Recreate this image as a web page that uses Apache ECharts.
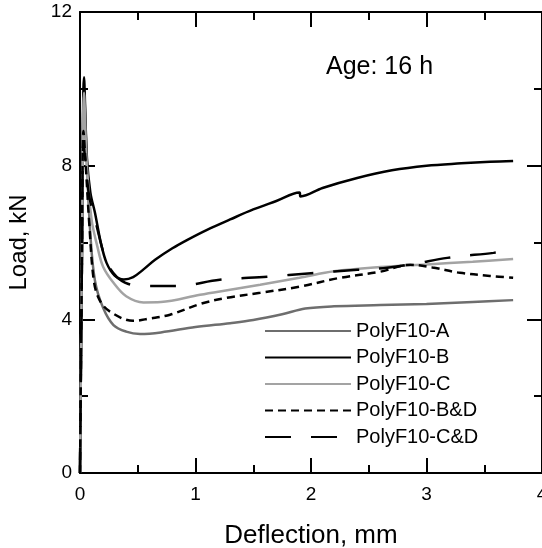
<!DOCTYPE html>
<html>
<head>
<meta charset="utf-8">
<script src="https://cdn.jsdelivr.net/npm/echarts@6/dist/echarts.min.js"></script>
<style>
  html, body { margin: 0; padding: 0; background: #fff; }
  #chart { width: 542px; height: 548px; }
</style>
</head>
<body>
<div id="chart"></div>
<script>
// deflection (mm), load (kN) pairs
const polyA = [[0,0],[0.015,5],[0.035,10.0],[0.06,8.0],[0.09,6.2],[0.13,5.0],[0.2,4.3],[0.29,3.85],[0.4,3.68],[0.52,3.62],[0.7,3.66],[1.0,3.8],[1.3,3.9],[1.5,3.98],[1.75,4.13],[1.95,4.28],[2.2,4.34],[2.6,4.37],[3.0,4.4],[3.4,4.45],[3.75,4.5]];
const polyB = [[0,0],[0.015,5],[0.035,10.3],[0.06,8.2],[0.09,7.3],[0.13,6.77],[0.18,6.0],[0.23,5.47],[0.3,5.14],[0.38,5.04],[0.46,5.1],[0.55,5.3],[0.65,5.55],[0.8,5.85],[0.93,6.07],[1.1,6.33],[1.3,6.6],[1.5,6.86],[1.7,7.08],[1.9,7.3],[1.91,7.2],[2.1,7.42],[2.4,7.68],[2.7,7.88],[3.0,8.0],[3.3,8.06],[3.55,8.1],[3.75,8.12]];
const polyC = [[0,0],[0.015,5],[0.035,9.9],[0.06,8.0],[0.1,6.6],[0.15,5.9],[0.2,5.37],[0.29,4.95],[0.4,4.6],[0.55,4.44],[0.7,4.45],[1.04,4.64],[1.3,4.77],[1.56,4.9],[1.9,5.08],[2.2,5.25],[2.6,5.36],[3.0,5.43],[3.4,5.5],[3.75,5.57]];
const polyBD = [[0,0],[0.015,5],[0.03,8.9],[0.05,8.0],[0.08,6.5],[0.12,5.0],[0.17,4.5],[0.26,4.2],[0.46,3.96],[0.6,4.02],[0.78,4.12],[1.04,4.4],[1.27,4.56],[1.56,4.69],[1.9,4.85],[2.25,5.08],[2.6,5.24],[2.86,5.42],[3.05,5.35],[3.29,5.21],[3.55,5.13],[3.75,5.08]];
const polyCD = [[0,0],[0.015,5],[0.03,8.6],[0.05,8.0],[0.08,7.2],[0.13,6.6],[0.23,5.5],[0.32,5.1],[0.42,4.92],[0.52,4.87],[0.84,4.87],[1.21,5.03],[1.62,5.11],[2.0,5.2],[2.4,5.29],[2.66,5.34],[2.9,5.45],[3.18,5.6],[3.58,5.73],[3.75,5.8]];
const seriesNames = ['PolyF10-A', 'PolyF10-B', 'PolyF10-C', 'PolyF10-B&D', 'PolyF10-C&D'];
const xTicks = [0, 1, 2, 3, 4];
const yTicks = [0, 4, 8, 12];

const font = 'Liberation Sans, Arial, Helvetica, sans-serif';
const chart = echarts.init(document.getElementById('chart'));

function axisBase(show) {
  return {
    axisLine: { show: true, onZero: false, lineStyle: { color: '#000', width: 2 } },
    axisTick: { show: true, inside: true, length: 15, lineStyle: { color: '#000', width: 2 } },
    minorTick: { show: true, splitNumber: 2, length: 8, lineStyle: { color: '#000', width: 2 } },
    splitLine: { show: false },
    axisLabel: { show: show, color: '#000', fontSize: 19, fontFamily: font }
  };
}

function mkLine(name, data, color, type) {
  return {
    name: name, type: 'line', data: data, symbol: 'none',
    smooth: 0.35,
    lineStyle: { color: color, width: 2.5, type: type },
    itemStyle: { color: color }
  };
}

const xMain = axisBase(true);
xMain.axisLabel.margin = 12;
const yMain = axisBase(true);

chart.setOption({
  animation: false,
  grid: { left: 80, right: 0, top: 12, bottom: 75, outerBoundsMode: 'none' },
  xAxis: [
    Object.assign(xMain, {
      type: 'value', min: xTicks[0], max: xTicks[xTicks.length - 1], interval: 1,
      name: 'Deflection, mm', nameLocation: 'middle', nameGap: 50,
      nameTextStyle: { color: '#000', fontSize: 26, fontFamily: font }
    }),
    Object.assign(axisBase(false), {
      type: 'value', position: 'top', min: 0, max: 4, interval: 1
    })
  ],
  yAxis: [
    Object.assign(yMain, {
      type: 'value', min: yTicks[0], max: yTicks[yTicks.length - 1], interval: 4,
      name: 'Load, kN', nameLocation: 'middle', nameGap: 49,
      nameTextStyle: { color: '#000', fontSize: 24, fontFamily: font }
    }),
    Object.assign(axisBase(false), {
      type: 'value', position: 'right', min: 0, max: 12, interval: 4
    })
  ],
  legend: {
    orient: 'vertical', left: 264, top: 321, padding: 0,
    itemWidth: 86, itemHeight: 14, itemGap: 6.5,
    itemStyle: { opacity: 0 },
    textStyle: { color: '#000', fontSize: 20, fontFamily: font, lineHeight: 20 },
    data: seriesNames
  },
  graphic: [{
    type: 'text', left: 326, top: 55,
    style: { text: 'Age: 16 h', fill: '#000', fontSize: 25, fontFamily: font }
  }],
  series: [
    mkLine(seriesNames[0], polyA, '#6e6e6e', 'solid'),
    mkLine(seriesNames[1], polyB, '#000000', 'solid'),
    mkLine(seriesNames[2], polyC, '#a3a3a3', 'solid'),
    mkLine(seriesNames[3], polyBD, '#000000', [8, 5]),
    mkLine(seriesNames[4], polyCD, '#000000', [26, 20])
  ]
});
</script>
</body>
</html>
